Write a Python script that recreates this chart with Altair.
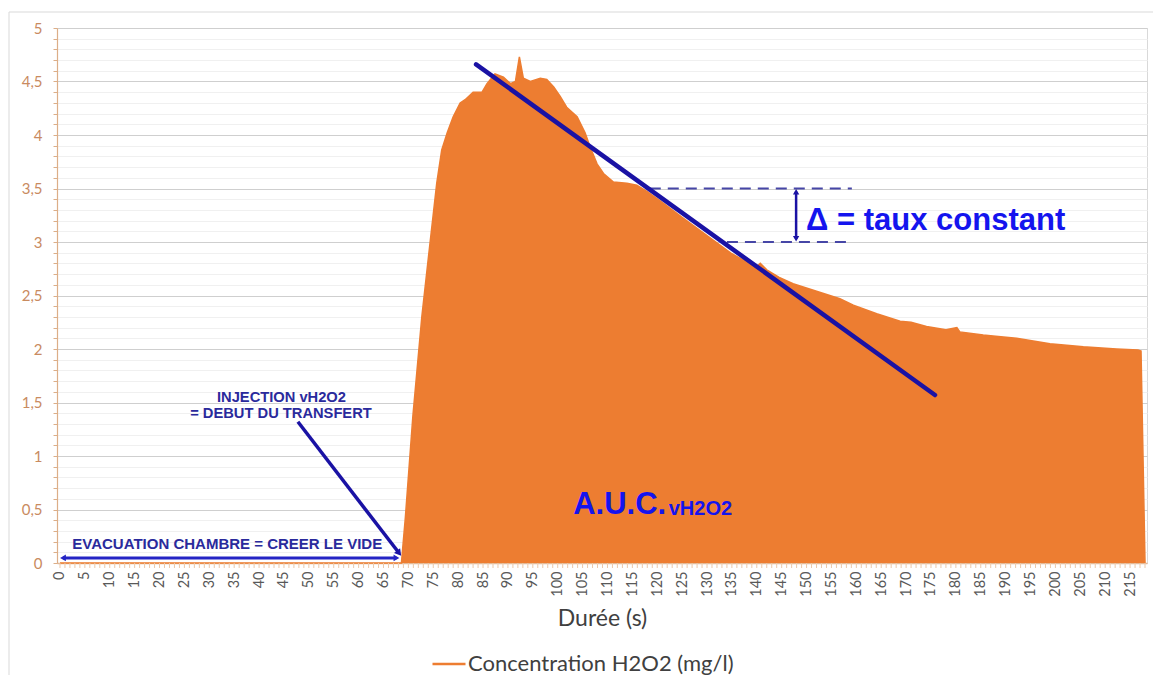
import altair as alt
import pandas as pd

# ---------------- data ----------------
time_s = [0, 68.6, 69.4, 70.9, 72.7, 74.2, 75.7, 76.7, 77.8, 79.0, 80.4, 81.4, 83.0, 84.8,
          85.8, 87.4, 89.1, 90.5, 91.5, 92.3, 93.1, 94.5, 96.5, 97.8, 99.2, 100.5, 101.8,
          103.9, 105.5, 106.5, 107.9, 109.2, 111.2, 113.9, 115.9, 118.0, 121.0, 125.0, 130.0,
          135.0, 138.5, 140.0, 140.7, 142.0, 144.5, 147.3, 152.0, 156.7, 159.4, 164.1, 168.8,
          171.0, 174.1, 178.0, 180.2, 180.8, 185.5, 188.0, 192.2, 198.9, 205.6, 212.3, 216.6,
          217.2, 218.0]
conc = [0, 0, 0.43, 1.37, 2.30, 2.93, 3.55, 3.86, 4.02, 4.17, 4.30, 4.33, 4.40, 4.40,
        4.48, 4.57, 4.54, 4.48, 4.50, 4.73, 4.53, 4.50, 4.53, 4.52, 4.45, 4.36, 4.26,
        4.17, 4.02, 3.89, 3.73, 3.64, 3.56, 3.55, 3.53, 3.47, 3.37, 3.23, 3.06,
        2.89, 2.80, 2.77, 2.80, 2.74, 2.67, 2.61, 2.54, 2.47, 2.41, 2.33, 2.26,
        2.25, 2.21, 2.18, 2.20, 2.16, 2.13, 2.12, 2.10, 2.05, 2.02, 2.00, 1.99,
        1.98, 0]
series_name = "Concentration H2O2 (mg/l)"

x_label_values = list(range(0, 216, 5))
x_minor_ticks = list(range(0, 219))
y_tick_values = [round(i * 0.1, 1) for i in range(51)]

# trend line (tangent) drawn on the chart
trend_t = [83.6, 175.8]
trend_v = [4.66, 1.57]

# dashed "delta" guide lines
dash_t_start = [118.5, 134.0]
dash_t_end = [159.1, 159.1]
dash_v = [3.5, 3.0]

# vertical delta arrow
delta_t = [147.9, 147.9]
delta_v = [3.03, 3.47]

# horizontal evacuation arrow
evac_t = [0.6, 67.6]
evac_v = [0.047, 0.047]

# injection arrow
inj_t = [47.8, 68.0]
inj_v = [1.32, 0.10]

# annotation texts
inj_texts = ["INJECTION vH2O2", "= DEBUT DU TRANSFERT"]
inj_text_t = [44.5, 44.4]
inj_text_v = [1.54, 1.39]

evac_text = ["EVACUATION CHAMBRE = CREER LE VIDE"]
evac_text_t = [33.6]
evac_text_v = [0.18]

delta_text = ["\u0394 = taux constant"]
delta_text_t = [149.9]
delta_text_v = [3.2]

auc_text = ["A.U.C."]
auc_sub = ["vH2O2"]
auc_t = [103.1]
auc_sub_t = [122.3]
auc_v = [0.46]

# ---------------- chart ----------------
ORANGE = "#ED7D31"
NAVY = "#1a12a4"
ANN = "#2a2a9c"
BRIGHT = "#1414ee"

xs = alt.Scale(domain=[-0.6, 218.4], nice=False, zero=False)
ys = alt.Scale(domain=[0, 5], nice=False, zero=False)

curve = pd.DataFrame({"t": time_s, "v": conc, "s": [series_name] * len(time_s)})

major_test = "abs(datum.value*2 - round(datum.value*2)) < 0.001"

ax_x = alt.Axis(values=x_label_values, labelAngle=270, ticks=False, grid=False,
                labelFont="Lato", labelFontSize=14.5, labelColor="#595959",
                labelPadding=8, domainColor="#e3b996", domainWidth=1.5,
                titleFont="Lato", titleFontSize=23, titleFontWeight="normal",
                titleColor="#404040", titleY=55, titleBaseline="middle",
                labelFlush=False, labelOverlap=False)
ax_y = alt.Axis(values=y_tick_values,
                labelExpr=major_test +
                " ? replace(toString(round(datum.value*10)/10), '.', ',') : ''",
                labelFont="Lato", labelFontSize=15, labelColor="#c98b5f",
                labelPadding=11, tickSize=4, tickColor="#dcae88",
                domainColor="#dcae88", domainWidth=1.2,
                grid=True,
                gridColor={"condition": {"test": major_test, "value": "#cfcfcf"},
                           "value": "#f0f0f0"},
                gridWidth=1, labelOverlap=False, labelFlush=False,
                minExtent=49, maxExtent=49)


def X():
    return alt.X("t:Q", scale=xs, title="Durée (s)", axis=ax_x)


def Y():
    return alt.Y("v:Q", scale=ys, title=None, axis=ax_y)


area = alt.Chart(curve).mark_area(color=ORANGE, opacity=1, interpolate="linear").encode(
    x=X(), y=Y())

legend_line = alt.Chart(curve).mark_line(strokeWidth=1.5, interpolate="linear").encode(
    x=X(), y=Y(),
    color=alt.Color("s:N", scale=alt.Scale(range=[ORANGE]),
                    legend=alt.Legend(title=None, orient="none", legendX=374, legendY=618,
                                      symbolType="stroke", symbolSize=1089,
                                      symbolStrokeWidth=2.5, labelFont="Lato",
                                      labelFontSize=22, labelColor="#404040",
                                      labelOffset=1, labelLimit=500)),
)

ticks = alt.Chart(pd.DataFrame({"t": x_minor_ticks})).mark_rule(
    color="#ecc9aa", strokeWidth=1).encode(
    x=X(), y=alt.value(535), y2=alt.value(540),
)

dashes = alt.Chart(pd.DataFrame({"t": dash_t_start, "t2": dash_t_end, "v": dash_v})).mark_rule(
    color="#4646a6", strokeWidth=2, strokeDash=[11, 7]).encode(
    x=X(), x2="t2:Q", y=Y(),
)

trend = alt.Chart(pd.DataFrame({"t": trend_t, "v": trend_v})).mark_line(
    color=NAVY, strokeWidth=4.5, strokeCap="round").encode(x=X(), y=Y())

delta_line = alt.Chart(pd.DataFrame({"t": delta_t, "v": delta_v})).mark_line(
    color=NAVY, strokeWidth=2.5).encode(x=X(), y=Y())
delta_heads = alt.Chart(pd.DataFrame({"t": delta_t, "v": delta_v,
                                      "sh": ["triangle-down", "triangle-up"]})).mark_point(
    filled=True, color=NAVY, size=40, opacity=1).encode(
    x=X(), y=Y(), shape=alt.Shape("sh:N", scale=None, legend=None),
)

evac_line = alt.Chart(pd.DataFrame({"t": evac_t, "v": evac_v})).mark_line(
    color="#2424c4", strokeWidth=3).encode(x=X(), y=Y())
evac_heads = alt.Chart(pd.DataFrame({"t": evac_t, "v": evac_v,
                                     "sh": ["triangle-left", "triangle-right"]})).mark_point(
    filled=True, color="#2424c4", size=45, opacity=1).encode(
    x=X(), y=Y(), shape=alt.Shape("sh:N", scale=None, legend=None),
)

inj_line = alt.Chart(pd.DataFrame({"t": inj_t, "v": inj_v})).mark_line(
    color=NAVY, strokeWidth=3.5).encode(x=X(), y=Y())
inj_head = alt.Chart(pd.DataFrame({"t": inj_t[1:], "v": inj_v[1:]})).mark_point(
    filled=True, color=NAVY, size=60, shape="triangle", angle=142, opacity=1).encode(
    x=X(), y=Y())

inj_label = alt.Chart(pd.DataFrame({"t": inj_text_t, "v": inj_text_v,
                                    "txt": inj_texts})).mark_text(
    font="Liberation Sans", fontWeight="bold", fontSize=14.7, color=ANN,
    align="center", baseline="middle").encode(x=X(), y=Y(), text="txt:N")

evac_label = alt.Chart(pd.DataFrame({"t": evac_text_t, "v": evac_text_v,
                                     "txt": evac_text})).mark_text(
    font="Liberation Sans", fontWeight="bold", fontSize=15, color=ANN,
    align="center", baseline="middle").encode(x=X(), y=Y(), text="txt:N")

delta_label = alt.Chart(pd.DataFrame({"t": delta_text_t, "v": delta_text_v,
                                      "txt": delta_text})).mark_text(
    font="Liberation Sans", fontWeight="bold", fontSize=31, color=BRIGHT,
    align="left", baseline="middle").encode(x=X(), y=Y(), text="txt:N")

auc_main = alt.Chart(pd.DataFrame({"t": auc_t, "v": auc_v, "txt": auc_text})).mark_text(
    font="Liberation Sans", fontWeight="bold", fontSize=31, color=BRIGHT,
    align="left", baseline="alphabetic").encode(x=X(), y=Y(), text="txt:N")
auc_subtext = alt.Chart(pd.DataFrame({"t": auc_sub_t, "v": auc_v, "txt": auc_sub})).mark_text(
    font="Liberation Sans", fontWeight="bold", fontSize=20, color=BRIGHT,
    align="left", baseline="alphabetic", dy=1).encode(x=X(), y=Y(), text="txt:N")

frame = alt.Chart(pd.DataFrame({"t": [0]})).mark_rect(
    fillOpacity=0, stroke="#d9d9d9", strokeWidth=1).encode(
    x=alt.value(-48), x2=alt.value(1102), y=alt.value(-16), y2=alt.value(720),
)

chart = alt.layer(
    area, legend_line, ticks, dashes, trend, delta_line, delta_heads,
    evac_line, evac_heads, inj_line, inj_head, inj_label, evac_label,
    delta_label, auc_main, auc_subtext, frame,
).properties(
    width=1090, height=535,
    autosize=alt.AutoSizeParams(type="none"),
    padding={"left": 49, "top": 20, "right": 6, "bottom": 112},
    background="white",
).configure_view(stroke="#d9d9d9")

chart.save("out.html", embed_options={"renderer": "svg", "actions": False})
